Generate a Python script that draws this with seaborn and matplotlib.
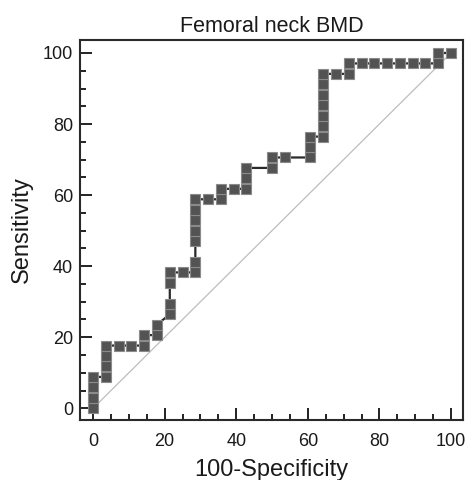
import pandas as pd
import seaborn as sns
from matplotlib import pyplot as plt
from matplotlib.ticker import MultipleLocator

# ROC points (100-Specificity, Sensitivity)
fpr = [0, 0, 0, 0,
       3.57, 3.57, 3.57, 3.57, 7.14, 10.71, 14.29, 14.29,
       17.86, 17.86, 21.43, 21.43, 21.43, 21.43, 25.0, 28.57,
       28.57, 28.57, 28.57, 28.57, 28.57, 28.57,
       32.14, 35.71, 35.71, 39.29, 42.86, 42.86, 42.86,
       50.0, 50.0, 53.57, 60.71, 60.71, 60.71,
       64.29, 64.29, 64.29, 64.29, 64.29, 64.29, 64.29,
       67.86, 71.43, 71.43, 75.0, 78.57, 82.14, 85.71, 89.29, 92.86,
       96.43, 96.43, 100.0]
tpr = [0, 2.94, 5.88, 8.82,
       8.82, 11.76, 14.71, 17.65, 17.65, 17.65, 17.65, 20.59,
       20.59, 23.53, 26.47, 29.41, 35.29, 38.24, 38.24, 38.24,
       41.18, 47.06, 50.0, 52.94, 55.88, 58.82,
       58.82, 58.82, 61.76, 61.76, 61.76, 64.71, 67.65,
       67.65, 70.59, 70.59, 70.59, 73.53, 76.47,
       76.47, 79.41, 82.35, 85.29, 88.24, 91.18, 94.12,
       94.12, 94.12, 97.06, 97.06, 97.06, 97.06, 97.06, 97.06, 97.06,
       97.06, 100.0, 100.0]
diag = [0, 100]

roc = pd.DataFrame({'fpr': fpr, 'tpr': tpr})

sns.set_style('ticks')
plt.rcParams['font.family'] = ['Liberation Sans', 'DejaVu Sans']

fig = plt.figure(figsize=(4.67, 4.80), dpi=100)
ax = fig.add_axes([0.171, 0.125, 0.820, 0.792])

# chance line
sns.lineplot(x=diag, y=diag, color='#bdbdbd', linewidth=0.9, ax=ax)
# ROC curve
sns.lineplot(data=roc, x='fpr', y='tpr', sort=False, estimator=None,
             color='#2a2a2a', linewidth=1.6, marker='s', markersize=7.8,
             markerfacecolor='#535353', markeredgecolor='#8a8a8a',
             markeredgewidth=0.8, ax=ax)

ax.set_xlim(-3.7, 103.3)
ax.set_ylim(-3.3, 103.7)
ax.xaxis.set_major_locator(MultipleLocator(20))
ax.xaxis.set_minor_locator(MultipleLocator(5))
ax.yaxis.set_major_locator(MultipleLocator(20))
ax.yaxis.set_minor_locator(MultipleLocator(5))
ax.tick_params(which='both', direction='in', width=1.4, colors='#222222',
               labelcolor='#1a1a1a', top=False, right=False)
ax.tick_params(which='major', length=8.5, labelsize=13, pad=5)
ax.tick_params(axis='x', which='major', pad=9)
ax.tick_params(which='minor', length=4.5)

for s in ax.spines.values():
    s.set_visible(True)
    s.set_linewidth(1.5)
    s.set_color('#2a2a2a')

ax.set_title('Femoral neck BMD', fontsize=15.5, pad=6, color='#1a1a1a')
ax.set_xlabel('100-Specificity', fontsize=17, labelpad=7, color='#1a1a1a')
ax.set_ylabel('Sensitivity', fontsize=17, labelpad=7, color='#1a1a1a')

fig.savefig('out.png', dpi=100)
